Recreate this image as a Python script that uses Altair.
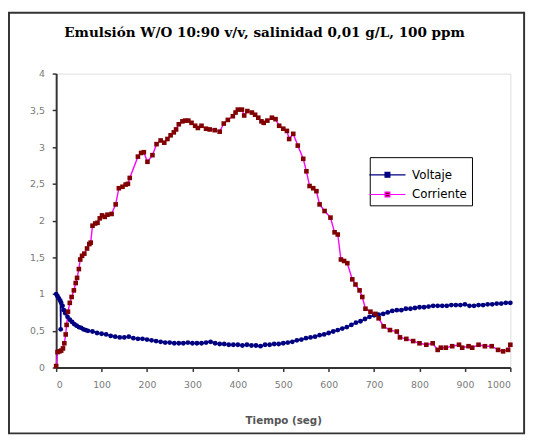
import altair as alt
import pandas as pd

# Tiempo (seg) y Corriente
t_corr = [0, 3, 7, 11, 15, 18, 21, 23, 26, 30, 34, 39, 43, 46, 50, 53, 57, 62, 68, 73, 76,
          80, 86, 91, 96, 101, 107, 113, 122, 131, 138, 146, 153, 158, 162, 180, 187, 193,
          201, 212, 221, 230, 238, 245, 252, 259, 264, 270, 278, 284, 291, 298, 306, 312,
          320, 330, 338, 349, 360, 369, 378, 389, 395, 400, 409, 414, 421, 431, 438, 445,
          452, 457, 465, 475, 483, 491, 500, 508, 513, 522, 532, 544, 551, 558, 566, 573,
          580, 591, 604, 613, 620, 627, 634, 641, 652, 659, 668, 674, 681, 692, 703, 710,
          721, 735, 750, 757, 771, 786, 800, 815, 829, 840, 847, 858, 872, 887, 894, 908,
          916, 930, 944, 959, 973, 984, 995, 1000]
v_corr = [0.02, 0.21, 0.22, 0.23, 0.26, 0.33, 0.45, 0.58, 0.76, 0.88, 0.96, 1.05, 1.15, 1.22,
          1.34, 1.47, 1.52, 1.55, 1.62, 1.68, 1.70, 1.93, 1.96, 1.97, 2.03, 2.07, 2.05, 2.08,
          2.09, 2.22, 2.44, 2.46, 2.49, 2.50, 2.58, 2.87, 2.92, 2.93, 2.80, 2.89, 3.04, 3.09,
          3.06, 3.11, 3.16, 3.20, 3.24, 3.31, 3.35, 3.36, 3.36, 3.33, 3.29, 3.26, 3.29, 3.25,
          3.24, 3.23, 3.21, 3.32, 3.37, 3.42, 3.47, 3.51, 3.51, 3.43, 3.49, 3.47, 3.44, 3.40,
          3.35, 3.33, 3.36, 3.40, 3.38, 3.29, 3.25, 3.22, 3.11, 3.18, 3.02, 2.84, 2.67, 2.47,
          2.44, 2.40, 2.22, 2.13, 2.04, 1.84, 1.81, 1.47, 1.45, 1.42, 1.20, 1.13, 1.05, 0.96,
          0.80, 0.76, 0.73, 0.67, 0.56, 0.51, 0.49, 0.41, 0.39, 0.36, 0.33, 0.31, 0.33, 0.24,
          0.27, 0.27, 0.29, 0.31, 0.27, 0.29, 0.27, 0.31, 0.29, 0.29, 0.24, 0.22, 0.24, 0.31]

# Tiempo (seg) y Voltaje
t_volt = [0, 3, 6, 9, 10, 11, 14, 17, 20, 25, 30, 35, 40, 45, 50, 55, 60, 65, 70, 80, 90,
          100, 110, 120, 130, 140, 150, 160, 170, 180, 190, 200, 210, 220, 230, 240, 250,
          260, 270, 280, 290, 300, 310, 320, 330, 340, 350, 360, 370, 380, 390, 400, 410,
          420, 430, 440, 450, 460, 470, 480, 490, 500, 510, 520, 530, 540, 550, 560, 570,
          580, 590, 600, 610, 620, 630, 640, 650, 660, 670, 680, 690, 700, 710, 720, 730,
          740, 750, 760, 770, 780, 790, 800, 810, 820, 830, 840, 850, 860, 870, 880, 890,
          900, 910, 920, 930, 940, 950, 960, 970, 980, 990, 1000]
v_volt = [1.00, 0.97, 0.94, 0.91, 0.52, 0.88, 0.84, 0.78, 0.74, 0.69, 0.65, 0.62, 0.59, 0.57,
          0.55, 0.54, 0.52, 0.51, 0.50, 0.49, 0.47, 0.46, 0.45, 0.43, 0.42, 0.41, 0.41, 0.42,
          0.40, 0.39, 0.39, 0.38, 0.37, 0.36, 0.35, 0.34, 0.34, 0.33, 0.33, 0.33, 0.34, 0.33,
          0.33, 0.33, 0.34, 0.35, 0.33, 0.32, 0.32, 0.31, 0.31, 0.31, 0.30, 0.31, 0.30, 0.30,
          0.29, 0.31, 0.31, 0.32, 0.32, 0.33, 0.34, 0.35, 0.37, 0.38, 0.40, 0.41, 0.42, 0.44,
          0.45, 0.47, 0.49, 0.51, 0.53, 0.55, 0.58, 0.61, 0.63, 0.66, 0.69, 0.71, 0.72, 0.73,
          0.75, 0.77, 0.78, 0.78, 0.80, 0.80, 0.81, 0.82, 0.82, 0.83, 0.84, 0.84, 0.84, 0.84,
          0.85, 0.85, 0.85, 0.86, 0.84, 0.84, 0.85, 0.85, 0.86, 0.86, 0.87, 0.87, 0.88, 0.88]

series = ["Voltaje", "Corriente"]
x_ticks = [0, 100, 200, 300, 400, 500, 600, 700, 800, 900, 1000]
y_ticks = [0, 0.5, 1, 1.5, 2, 2.5, 3, 3.5, 4]
title_text = "Emulsión W/O 10:90 v/v, salinidad 0,01 g/L, 100 ppm"

df = pd.concat([
    pd.DataFrame({"t": t_volt, "v": v_volt, "serie": "Voltaje", "o": range(len(t_volt))}),
    pd.DataFrame({"t": t_corr, "v": v_corr, "serie": "Corriente", "o": range(len(t_corr))}),
])

X = alt.X("t:Q", scale=alt.Scale(domain=[0, 1000], nice=False),
          axis=alt.Axis(values=x_ticks, title="Tiempo (seg)", grid=False,
                        labelExpr="toString(datum.value)",
                        labelFont="DejaVu Sans", labelFontSize=9.5, labelColor="#7a7a7a",
                        titleFont="DejaVu Sans", titleFontSize=10.5, titleFontWeight="bold",
                        titleColor="#555555", titlePadding=27, labelPadding=8,
                        tickSize=4, tickColor="#333333", domainColor="#333333",
                        domainWidth=2, tickWidth=1.5))
Y = alt.Y("v:Q", scale=alt.Scale(domain=[0, 4], nice=False),
          axis=alt.Axis(values=y_ticks, title=None, grid=False,
                        labelExpr="replace(toString(datum.value), '.', ',')",
                        labelFont="DejaVu Sans", labelFontSize=9.5, labelColor="#7a7a7a",
                        labelPadding=8, tickSize=4, tickColor="#333333",
                        domainColor="#333333", domainWidth=2, tickWidth=1.5))

base = alt.Chart(df)
fill_scale = alt.Scale(domain=series, range=["#000080", "#800000"])

lines = base.mark_line(strokeWidth=1.4).encode(
    x=X, y=Y, order="o:Q",
    stroke=alt.Stroke("serie:N", scale=alt.Scale(domain=series, range=["#000080", "#FF00FF"]),
                      legend=alt.Legend(title=None, orient="none", legendX=319, legendY=85,
                                        symbolType="M-1.5,0H1.5M-0.2,-0.2H0.2V0.2H-0.2Z",
                                        symbolSize=600, symbolStrokeWidth=1.2,
                                        labelFont="DejaVu Sans", labelFontSize=12,
                                        labelColor="#000000", labelOffset=12, rowPadding=1,
                                        padding=5, strokeColor="#000000", fillColor="#ffffff",
                                        labelLimit=200)),
)

pts_v = base.transform_filter(alt.datum.serie == "Voltaje").mark_point(
    filled=True, opacity=1, strokeWidth=0, shape="circle", size=24
).encode(x=X, y=Y, fill=alt.Fill("serie:N", scale=fill_scale))

pts_c = base.transform_filter(alt.datum.serie == "Corriente").mark_point(
    filled=True, opacity=1, strokeWidth=0, shape="square", size=22
).encode(x=X, y=Y, fill=alt.Fill("serie:N", scale=fill_scale))

frame = alt.Chart(pd.DataFrame({"a": [0]})).mark_rect(
    fill=None, stroke="#333333", strokeWidth=2
).encode(x=alt.value(-48), x2=alt.value(476), y=alt.value(-62), y2=alt.value(366))

title = alt.Chart(pd.DataFrame({"a": [0]})).mark_text(
    font="DejaVu Serif", fontSize=13.8, fontWeight="bold", color="#000000",
    align="center", baseline="middle"
).encode(x=alt.value(212), y=alt.value(-41), text=alt.value(title_text))

chart = alt.layer(frame, title, lines, pts_v, pts_c).properties(
    width=462, height=299,
    autosize=alt.AutoSizeParams(type="none"),
    padding={"left": 49, "top": 63, "right": 20, "bottom": 70},
).resolve_legend(fill="shared", stroke="shared").configure_view(
    stroke="#333333", strokeWidth=2
).configure(background="white")

chart.save("out.html", embed_options={"renderer": "svg", "actions": False})
